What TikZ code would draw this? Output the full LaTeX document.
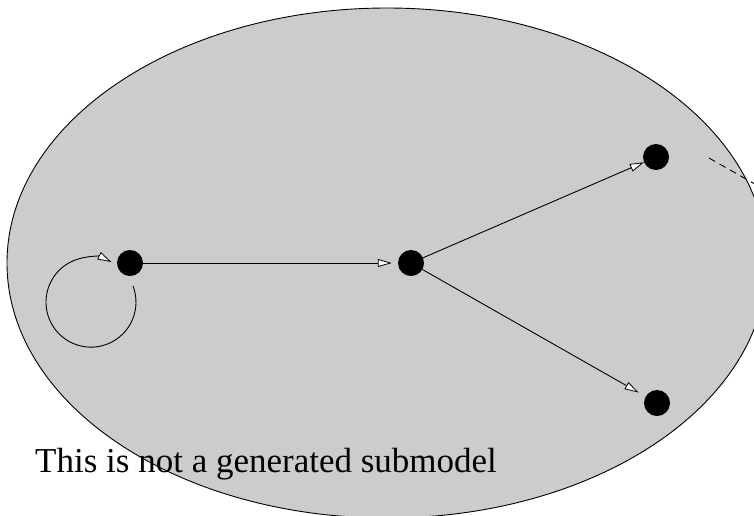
\documentclass[tikz,border=0pt]{standalone}
\usepackage{fontspec}
\setmainfont{Liberation Serif}
\usetikzlibrary{arrows.meta}
\begin{document}
\begin{tikzpicture}[x=1pt,y=-1pt,
  dot/.style={circle,fill=black,draw=none,minimum size=26pt,inner sep=0pt},
  edge/.style={line width=0.9pt,-{Triangle[length=14pt,width=8pt,fill=white,line width=0.8pt]}},
  label/.style={font=\fontsize{35}{40}\selectfont,anchor=base west,inner sep=0pt}]
\clip (0,0) rectangle (754,515);
\fill[black!20] (387,263) ellipse[x radius=380,y radius=255];
\draw[line width=0.9pt] (387,263) ellipse[x radius=380,y radius=255];
\node[dot] (A) at (130,263) {};
\node[dot] (B) at (411,263) {};
\node[dot] (C) at (656,157) {};
\node[dot] (D) at (657,403) {};
\draw[edge,shorten >=6pt] (A) -- (B);
\draw[edge] (B) -- (C);
\draw[edge,shorten >=8pt] (B) -- (D);
\draw[edge] ([shift={(3,23)}]A.center) arc[start angle=-21,end angle=297,radius=45];
\coordinate (d1) at (709,158);
\coordinate (d2) at (790,204);
\draw[line width=0.9pt,dash pattern=on 7pt off 5pt] (d1) -- (d2);
\node[label] (T) at (35,472) {This is not a generated submodel};
\end{tikzpicture}
\end{document}
